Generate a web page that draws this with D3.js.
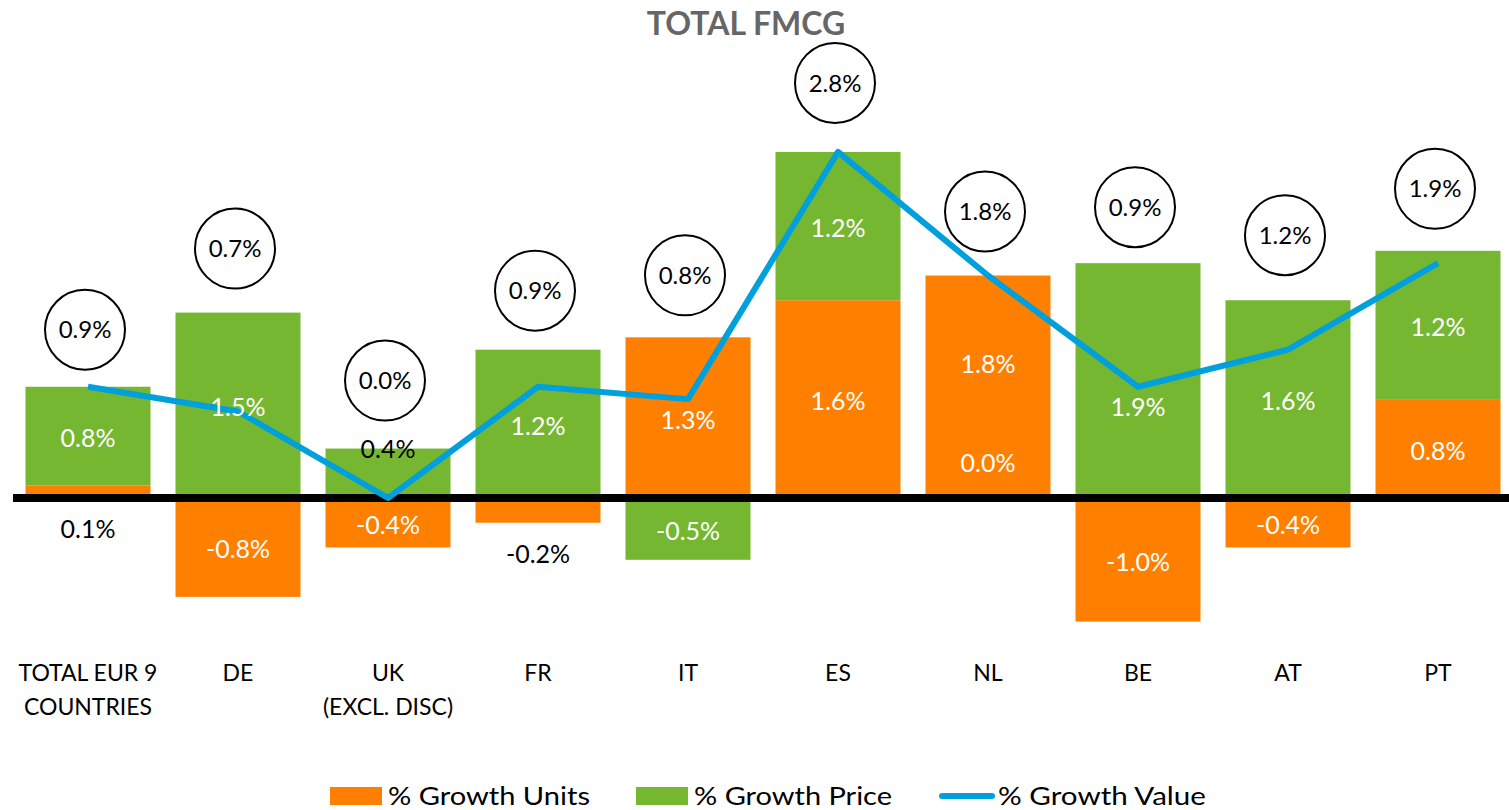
<!DOCTYPE html>
<html>
<head>
<meta charset="utf-8">
<script src="https://cdn.jsdelivr.net/npm/d3@7"></script>
<style>
  body { margin: 0; background: #fff; }
  text { font-family: Lato, "Open Sans", sans-serif; }
</style>
</head>
<body>
<div id="chart"></div>
<script>
const categories = ['TOTAL EUR 9|COUNTRIES', 'DE', 'UK|(EXCL. DISC)', 'FR', 'IT', 'ES', 'NL', 'BE', 'AT', 'PT'];
const growth_units = [0.1, -0.8, -0.4, -0.2, 1.3, 1.6, 1.8, -1.0, -0.4, 0.8];
const growth_price = [0.8, 1.5, 0.4, 1.2, -0.5, 1.2, 0.0, 1.9, 1.6, 1.2];
const growth_value = [0.9, 0.7, 0.0, 0.9, 0.8, 2.8, 1.8, 0.9, 1.2, 1.9];
const legend_labels = ['% Growth Units', '% Growth Price', '% Growth Value'];

const chart_width = 1509;
const chart_height = 810;
const c_units = '#ff8000';
const c_price = '#76b731';
const c_value = '#00a0dc';

// hand-moved labels in the original (pixel nudges)
const label_nudge = {'NL-units': -25, 'BE-price': 24};
const bubble_nudge = [6, -1, -5, 4, 1, -6, -1, 7, -2, 1];

const svg = d3.select('#chart')
    .append('svg')
    .attr('width', chart_width)
    .attr('height', chart_height);

// Scales
const x_scale = d3.scaleBand()
    .domain(categories)
    .range([13, 1513])
    .paddingInner(1 / 6)
    .paddingOuter(1 / 12);

const y_scale = d3.scaleLinear()
    .domain([-1.2, 3.0])
    .range([498 + 1.2 * 123.6, 498 - 3.0 * 123.6]);

const fmt = v => d3.format('.1f')(v).replace('\u2212', '-') + '%';

// Build stacked segments (positives stack up, negatives stack down)
const segments = [];
categories.forEach((c, i) => {
    let pos = 0, neg = 0;
    [['units', growth_units[i], c_units], ['price', growth_price[i], c_price]].forEach(([s, v, col]) => {
        let y0, y1;
        if (v >= 0) { y0 = pos; y1 = pos + v; pos = y1; }
        else { y0 = neg; y1 = neg + v; neg = y1; }
        segments.push({cat: c, short: c.split('|')[0], series: s, value: v, y0, y1, color: col});
    });
    segments.push({cat: c, series: 'top', value: pos});
});

const bars = segments.filter(d => d.series !== 'top');

// Bars
svg.append('g')
    .selectAll('rect')
    .data(bars)
    .enter()
    .append('rect')
    .attr('x', d => x_scale(d.cat))
    .attr('width', x_scale.bandwidth())
    .attr('y', d => y_scale(Math.max(d.y0, d.y1)))
    .attr('height', d => Math.abs(y_scale(d.y0) - y_scale(d.y1)))
    .attr('fill', d => d.color);

// Zero line
svg.append('line')
    .attr('x1', 13).attr('x2', chart_width)
    .attr('y1', y_scale(0)).attr('y2', y_scale(0))
    .attr('stroke', '#000')
    .attr('stroke-width', 8);

// Value line
const cx = d => x_scale(d) + x_scale.bandwidth() / 2;
const line = d3.line()
    .x((d, i) => cx(categories[i]))
    .y(d => y_scale(d));
svg.append('path')
    .datum(growth_value)
    .attr('d', line)
    .attr('fill', 'none')
    .attr('stroke', c_value)
    .attr('stroke-width', 6)
    .attr('stroke-linejoin', 'round');

// Bar labels
function labelPos(d) {
    if (d.value === 0) return {y: y_scale(0) - 35, fill: '#fff'};
    if (d.series === 'units' && Math.abs(d.value) < 0.25)
        return {y: y_scale(Math.min(0, d.value)) + 31, fill: '#000'};
    if (d.series === 'price' && Math.abs(d.value) < 0.45)
        return {y: y_scale(d.y1), fill: '#000'};
    const n = label_nudge[d.short + '-' + d.series] || 0;
    return {y: (y_scale(d.y0) + y_scale(d.y1)) / 2 + 2 + n, fill: '#fff'};
}

svg.append('g')
    .selectAll('text')
    .data(bars)
    .enter()
    .append('text')
    .text(d => fmt(d.value))
    .attr('x', d => cx(d.cat))
    .attr('y', d => labelPos(d).y)
    .attr('dy', '0.36em')
    .attr('text-anchor', 'middle')
    .attr('font-size', 25)
    .attr('fill', d => labelPos(d).fill);

// Value bubbles
const tops = segments.filter(d => d.series === 'top');
const bubble = svg.append('g')
    .selectAll('g')
    .data(tops)
    .enter()
    .append('g')
    .attr('transform', (d, i) => `translate(${cx(d.cat) - 3}, ${y_scale(d.value) - 63 + bubble_nudge[i]})`);
bubble.append('circle')
    .attr('r', 40)
    .attr('fill', '#fff')
    .attr('stroke', '#000')
    .attr('stroke-width', 2);
bubble.append('text')
    .text((d, i) => fmt(growth_value[i]))
    .attr('dy', '0.36em')
    .attr('text-anchor', 'middle')
    .attr('font-size', 24)
    .attr('fill', '#000');

// Category labels
const cat_labels = svg.append('g')
    .selectAll('text')
    .data(categories)
    .enter()
    .append('text')
    .attr('x', d => cx(d))
    .attr('y', 681)
    .attr('text-anchor', 'middle')
    .attr('font-size', 23)
    .attr('fill', '#000');
cat_labels.selectAll('tspan')
    .data(d => d.split('|').map(t => ({t, x: cx(d)})))
    .enter()
    .append('tspan')
    .attr('x', d => d.x)
    .attr('dy', (d, i) => i === 0 ? 0 : 34)
    .text(d => d.t);

// Title
svg.append('text')
    .text('TOTAL FMCG')
    .attr('x', 746)
    .attr('y', 35)
    .attr('text-anchor', 'middle')
    .attr('font-size', 32)
    .attr('font-weight', 'bold')
    .attr('fill', '#666');

// Legend
const legend_x = [330, 636, 940];
const legend_len = [202, 198, 208];
const legend = svg.append('g')
    .selectAll('g')
    .data(legend_labels)
    .enter()
    .append('g')
    .attr('transform', (d, i) => `translate(${legend_x[i]}, 796)`);
legend.each(function (d, i) {
    const g = d3.select(this);
    if (i < 2) {
        g.append('rect')
            .attr('x', 0).attr('y', -9)
            .attr('width', 52).attr('height', 18)
            .attr('fill', i === 0 ? c_units : c_price);
    } else {
        g.append('line')
            .attr('x1', 2).attr('x2', 52)
            .attr('y1', 0).attr('y2', 0)
            .attr('stroke', c_value)
            .attr('stroke-width', 6)
            .attr('stroke-linecap', 'round');
    }
    g.append('text')
        .text(d)
        .attr('x', 58)
        .attr('dy', '0.36em')
        .attr('font-size', 25)
        .attr('textLength', legend_len[i])
        .attr('lengthAdjust', 'spacingAndGlyphs')
        .attr('fill', '#000');
});
</script>
</body>
</html>
